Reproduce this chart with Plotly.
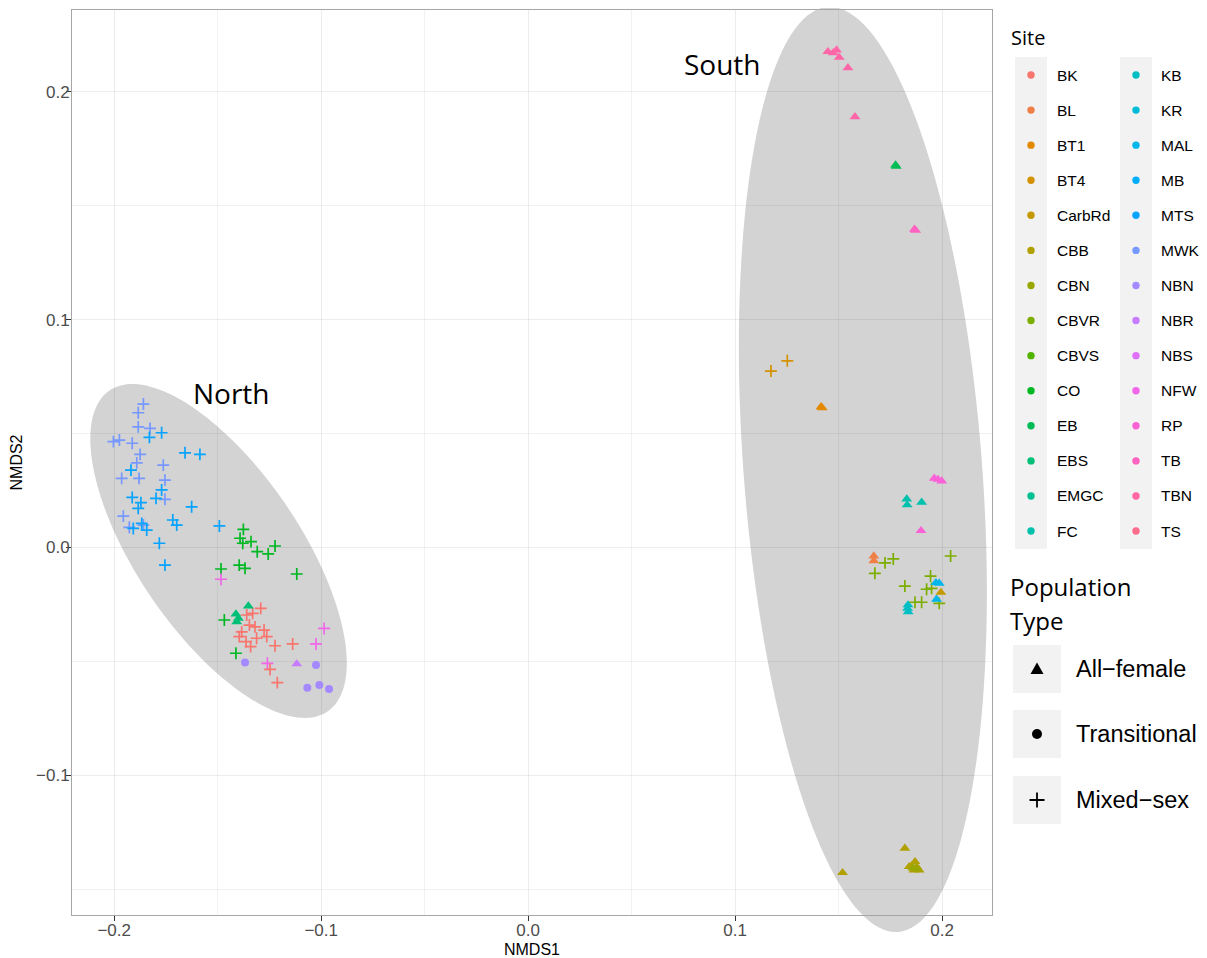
import numpy as np
import plotly.graph_objects as go

# ---------------- categories ----------------
SITES = ["BK", "BL", "BT1", "BT4", "CarbRd", "CBB", "CBN", "CBVR", "CBVS", "CO", "EB", "EBS", "EMGC", "FC",
         "KB", "KR", "MAL", "MB", "MTS", "MWK", "NBN", "NBR", "NBS", "NFW", "RP", "TB", "TBN", "TS"]
POP_TYPES = ["All\u2212female", "Transitional", "Mixed\u2212sex"]
X_TICKS = [-0.2, -0.1, 0.0, 0.1, 0.2]
Y_TICKS = [-0.1, 0.0, 0.1, 0.2]

# ---------------- North group ----------------
MWK_MIXED_X = [-0.1859, -0.1884, -0.1884, -0.1827, -0.2004, -0.1975, -0.1913, -0.1875, -0.1891, -0.1763,
               -0.1964, -0.1880, -0.1755, -0.1755, -0.1956, -0.1927, -0.1859]
MWK_MIXED_Y = [0.0629, 0.0591, 0.0529, 0.0522, 0.0464, 0.0471, 0.0457, 0.0408, 0.0371, 0.0361,
               0.0303, 0.0303, 0.0295, 0.0211, 0.0137, 0.0088, 0.0098]
MTS_MIXED_X = [-0.1771, -0.1830, -0.1658, -0.1586, -0.1919, -0.1771, -0.1798, -0.1913, -0.1871, -0.1884,
               -0.1626, -0.1717, -0.1698, -0.1908, -0.1867, -0.1843, -0.1782, -0.1492, -0.1755]
MTS_MIXED_Y = [0.0503, 0.0483, 0.0415, 0.0408, 0.0339, 0.0252, 0.0215, 0.0219, 0.0196, 0.0171,
               0.0178, 0.0120, 0.0098, 0.0083, 0.0105, 0.0076, 0.0018, 0.0094, -0.0078]
CO_MIXED_X = [-0.1376, -0.1392, -0.1379, -0.1339, -0.1309, -0.1256, -0.1223, -0.1484, -0.1396, -0.1368,
              -0.1118, -0.1468, -0.1412]
CO_MIXED_Y = [0.0079, 0.0040, 0.0018, 0.0025, -0.0019, -0.0029, 0.0006, -0.0095, -0.0078, -0.0092,
              -0.0117, -0.0319, -0.0465]
NFW_MIXED_X = [-0.1484, -0.0986, -0.1025, -0.1260]
NFW_MIXED_Y = [-0.0140, -0.0356, -0.0424, -0.0509]
BK_MIXED_X = [-0.1292, -0.1331, -0.1360, -0.1347, -0.1320, -0.1384, -0.1396, -0.1276, -0.1263, -0.1312,
              -0.1363, -0.1341, -0.1223, -0.1138, -0.1247, -0.1212]
BK_MIXED_Y = [-0.0268, -0.0290, -0.0297, -0.0341, -0.0349, -0.0371, -0.0392, -0.0363, -0.0392, -0.0399,
              -0.0414, -0.0436, -0.0432, -0.0424, -0.0536, -0.0594]
EBS_FEMALE_X = [-0.1352, -0.1412, -0.1400, -0.1408]
EBS_FEMALE_Y = [-0.0258, -0.0293, -0.0312, -0.0327]
NBR_FEMALE_X = [-0.1118]
NBR_FEMALE_Y = [-0.0512]
NBN_TRANS_X = [-0.1368, -0.1025, -0.1067, -0.1009, -0.0962]
NBN_TRANS_Y = [-0.0505, -0.0517, -0.0616, -0.0604, -0.0622]

# ---------------- South group ----------------
TBN_FEMALE_X = [0.1448, 0.1474, 0.1490, 0.1503, 0.1545, 0.1579]
TBN_FEMALE_Y = [0.2176, 0.2171, 0.2183, 0.2151, 0.2105, 0.1890]
EB_FEMALE_X = [0.1775, 0.1778]
EB_FEMALE_Y = [0.1678, 0.1672]
TB_FEMALE_X = [0.1866, 0.1872]
TB_FEMALE_Y = [0.1396, 0.1392]
BT4_MIXED_X = [0.1173, 0.1252]
BT4_MIXED_Y = [0.0774, 0.0819]
BT1_FEMALE_X = [0.1415, 0.1421]
BT1_FEMALE_Y = [0.0617, 0.0612]
RP_FEMALE_X = [0.1962, 0.1980, 0.1998, 0.1898]
RP_FEMALE_Y = [0.0303, 0.0298, 0.0291, 0.0073]
FC_FEMALE_X = [0.1829, 0.1831, 0.1901]
FC_FEMALE_Y = [0.0212, 0.0186, 0.0198]
BL_FEMALE_X = [0.1670, 0.1670]
BL_FEMALE_Y = [-0.0059, -0.0038]
CBVR_MIXED_X = [0.1724, 0.1764, 0.1675, 0.2041, 0.1944, 0.1820, 0.1925, 0.1949, 0.1869, 0.1901, 0.1986]
CBVR_MIXED_Y = [-0.0068, -0.0051, -0.0114, -0.0038, -0.0126, -0.0170, -0.0184, -0.0180, -0.0241, -0.0241, -0.0246]
MAL_FEMALE_X = [0.1970, 0.1986, 0.1973]
MAL_FEMALE_Y = [-0.0155, -0.0158, -0.0228]
CARBRD_FEMALE_X = [0.1994]
CARBRD_FEMALE_Y = [-0.0198]
KB_FEMALE_X = [0.1833, 0.1836, 0.1835]
KB_FEMALE_Y = [-0.0268, -0.0283, -0.0253]
CBB_FEMALE_X = [0.1820, 0.1519, 0.1869, 0.1853, 0.1877, 0.1889, 0.1864, 0.1841]
CBB_FEMALE_Y = [-0.1321, -0.1428, -0.1380, -0.1399, -0.1402, -0.1417, -0.1417, -0.1402]
CBN_FEMALE_X = [0.1859, 0.1878]
CBN_FEMALE_Y = [-0.1408, -0.1412]

# ---------------- group ellipses (centre + conjugate semi-axis vectors, data units) ----------------
NORTH_CENTER = (-0.1496, -0.0016)
NORTH_U = (0.05266, -0.07046)
NORTH_V = (-0.03266, -0.02015)
SOUTH_CENTER = (0.1617, 0.0342)
SOUTH_U = (0.01705, -0.20303)
SOUTH_V = (-0.05744, -0.00399)

X_RANGE = [-0.2204, 0.2241]
Y_RANGE = [-0.1614, 0.2359]

GROUP_LABELS = ["North", "South"]
GROUP_LABEL_X = [-0.1431, 0.0941]
GROUP_LABEL_Y = [0.0677, 0.2122]


# ---------------- ggplot hue palette ----------------
def hcl_hex(h, c=100.0, l=65.0):
    Xn, Yn, Zn = 95.047, 100.0, 108.883
    U = c * np.cos(np.radians(h))
    V = c * np.sin(np.radians(h))
    Y = Yn * ((l + 16) / 116) ** 3 if l > 8 else Yn * l / 903.3
    den = Xn + 15 * Yn + 3 * Zn
    un, vn = 4 * Xn / den, 9 * Yn / den
    up = U / (13 * l) + un
    vp = V / (13 * l) + vn
    X = 9.0 * Y * up / (4 * vp)
    Z = -X / 3 - 5 * Y + 3 * Y / vp
    X, Y, Z = X / 100, Y / 100, Z / 100
    r = 3.240479 * X - 1.537150 * Y - 0.498535 * Z
    g = -0.969256 * X + 1.875992 * Y + 0.041556 * Z
    b = 0.055648 * X - 0.204043 * Y + 1.057311 * Z

    def gam(v):
        v = 12.92 * v if v <= 0.0031308 else 1.055 * v ** (1 / 2.4) - 0.055
        return int(round(min(max(v, 0), 1) * 255))
    return "#%02X%02X%02X" % (gam(r), gam(g), gam(b))


n_sites = len(SITES)
COLORS = {s: hcl_hex((15 + 360.0 * i / n_sites) % 360) for i, s in enumerate(SITES)}

GROUPS = [
    ("MWK", 2, MWK_MIXED_X, MWK_MIXED_Y), ("MTS", 2, MTS_MIXED_X, MTS_MIXED_Y),
    ("CO", 2, CO_MIXED_X, CO_MIXED_Y), ("NFW", 2, NFW_MIXED_X, NFW_MIXED_Y),
    ("BK", 2, BK_MIXED_X, BK_MIXED_Y), ("EBS", 0, EBS_FEMALE_X, EBS_FEMALE_Y),
    ("NBR", 0, NBR_FEMALE_X, NBR_FEMALE_Y), ("NBN", 1, NBN_TRANS_X, NBN_TRANS_Y),
    ("TBN", 0, TBN_FEMALE_X, TBN_FEMALE_Y), ("EB", 0, EB_FEMALE_X, EB_FEMALE_Y),
    ("TB", 0, TB_FEMALE_X, TB_FEMALE_Y), ("BT4", 2, BT4_MIXED_X, BT4_MIXED_Y),
    ("BT1", 0, BT1_FEMALE_X, BT1_FEMALE_Y), ("RP", 0, RP_FEMALE_X, RP_FEMALE_Y),
    ("FC", 0, FC_FEMALE_X, FC_FEMALE_Y), ("BL", 0, BL_FEMALE_X, BL_FEMALE_Y),
    ("CBVR", 2, CBVR_MIXED_X, CBVR_MIXED_Y), ("MAL", 0, MAL_FEMALE_X, MAL_FEMALE_Y),
    ("CarbRd", 0, CARBRD_FEMALE_X, CARBRD_FEMALE_Y), ("KB", 0, KB_FEMALE_X, KB_FEMALE_Y),
    ("CBB", 0, CBB_FEMALE_X, CBB_FEMALE_Y), ("CBN", 0, CBN_FEMALE_X, CBN_FEMALE_Y),
]

SYMBOLS = ["triangle-up", "circle", "cross-thin-open"]
SIZES = [9.5, 8, 8.5]

fig = go.Figure()
for site, t, xs, ys in GROUPS:
    col = COLORS[site]
    fig.add_trace(go.Scatter(
        x=xs, y=ys, mode="markers", name=site + " " + POP_TYPES[t], showlegend=False,
        marker=dict(symbol=SYMBOLS[t], size=SIZES[t], color=col,
                    line=dict(color=col, width=1.7 if t == 2 else 0)),
        cliponaxis=False,
    ))

# ---------------- geometry (page has an 8px body margin) ----------------
PAGE_OFF = 8
W, H = 1199, 950
L, T = 72 - PAGE_OFF, 10 - PAGE_OFF
R, B = W - (992 - PAGE_OFF), H - (915 - PAGE_OFF)
PW, PH = W - L - R, H - T - B


def d2p(x, y):
    return ((x - X_RANGE[0]) / (X_RANGE[1] - X_RANGE[0]),
            (y - Y_RANGE[0]) / (Y_RANGE[1] - Y_RANGE[0]))


def px2p(px, py):
    # screen pixel (as seen in the window) -> paper coordinates
    return ((px - PAGE_OFF - L) / PW, (H - B - (py - PAGE_OFF)) / PH)


def ellipse_path(c, u, v, n=160):
    t = np.linspace(0, 2 * np.pi, n)
    xs = c[0] + u[0] * np.cos(t) + v[0] * np.sin(t)
    ys = c[1] + u[1] * np.cos(t) + v[1] * np.sin(t)
    pts = [d2p(a, b) for a, b in zip(xs, ys)]
    return "M " + " L ".join("%.5f,%.5f" % p for p in pts) + " Z"


shapes = []
for c, u, v in [(NORTH_CENTER, NORTH_U, NORTH_V), (SOUTH_CENTER, SOUTH_U, SOUTH_V)]:
    shapes.append(dict(type="path", xref="paper", yref="paper", layer="below",
                       path=ellipse_path(c, u, v), fillcolor="#d3d3d3", line=dict(width=0)))

annotations = []
for txt, gx, gy in zip(GROUP_LABELS, GROUP_LABEL_X, GROUP_LABEL_Y):
    annotations.append(dict(x=gx, y=gy, xref="x", yref="y", text=txt, showarrow=False,
                            font=dict(family="Open Sans", size=28, color="black")))


# ---------------- manual legend ----------------
def rect_px(x0, y0, x1, y1, color):
    a = px2p(x0, y1)
    b = px2p(x1, y0)
    return dict(type="rect", xref="paper", yref="paper", layer="below",
                x0=a[0], y0=a[1], x1=b[0], y1=b[1], fillcolor=color, line=dict(width=0))


def text_px(x, y, txt, size, family, color="black"):
    p = px2p(x, y)
    return dict(x=p[0], y=p[1], xref="paper", yref="paper", text=txt, showarrow=False,
                xanchor="left", yanchor="middle", font=dict(family=family, size=size, color=color))


annotations.append(text_px(1009, 38, "Site", 20, "Open Sans"))
row_gap = 35.08
cols = [(1031, 1055), (1136, 1159)]
for ci, (kx, lx) in enumerate(cols):
    shapes.append(rect_px(kx - 16, 57, kx + 16, 549, "#f2f2f2"))
for i, s in enumerate(SITES):
    ci, ri = divmod(i, 14)
    kx, lx = cols[ci]
    cy = 75 + row_gap * ri
    a = px2p(kx - 3.7, cy + 3.7)
    b = px2p(kx + 3.7, cy - 3.7)
    shapes.append(dict(type="circle", xref="paper", yref="paper", layer="below",
                       x0=a[0], y0=a[1], x1=b[0], y1=b[1], fillcolor=COLORS[s], line=dict(width=0)))
    annotations.append(text_px(lx, cy, s, 15.5, "Liberation Sans"))

annotations.append(text_px(1008, 586, "Population", 24, "Open Sans"))
annotations.append(text_px(1008, 620, "Type", 24, "Open Sans"))
pt_rows = [669, 734, 800]
for i, (txt, cy) in enumerate(zip(POP_TYPES, pt_rows)):
    shapes.append(rect_px(1013, cy - 24, 1061, cy + 24, "#f2f2f2"))
    kx = 1037
    if i == 0:
        p1, p2, p3 = px2p(kx - 6.5, cy + 5), px2p(kx + 6.5, cy + 5), px2p(kx, cy - 6.5)
        shapes.append(dict(type="path", xref="paper", yref="paper", layer="below",
                           path="M %f,%f L %f,%f L %f,%f Z" % (*p1, *p2, *p3),
                           fillcolor="black", line=dict(width=0)))
    elif i == 1:
        a = px2p(kx - 5, cy + 5)
        b = px2p(kx + 5, cy - 5)
        shapes.append(dict(type="circle", xref="paper", yref="paper", layer="below",
                           x0=a[0], y0=a[1], x1=b[0], y1=b[1], fillcolor="black", line=dict(width=0)))
    else:
        h1, h2 = px2p(kx - 7.5, cy), px2p(kx + 7.5, cy)
        v1, v2 = px2p(kx, cy - 7.5), px2p(kx, cy + 7.5)
        shapes.append(dict(type="path", xref="paper", yref="paper", layer="below",
                           path="M %f,%f L %f,%f M %f,%f L %f,%f" % (*h1, *h2, *v1, *v2),
                           line=dict(color="black", width=1.8)))
    annotations.append(text_px(1074, cy, txt, 23.5, "Liberation Sans"))

axis_common = dict(
    showline=True, mirror=True, linecolor="#a6a6a6", linewidth=1,
    ticks="outside", ticklen=5, tickwidth=1, tickcolor="#333333",
    tickfont=dict(family="Liberation Sans", size=17, color="#4d4d4d"),
    showgrid=True, gridcolor="rgba(0,0,0,0.075)", gridwidth=1,
    zeroline=False, tickformat=".1f",
    title_font=dict(family="Liberation Sans", size=16, color="black"),
)

fig.update_layout(
    width=W, height=H,
    margin=dict(l=L, r=R, t=T, b=B, autoexpand=False),
    paper_bgcolor="white", plot_bgcolor="rgba(0,0,0,0)",
    showlegend=False,
    xaxis=dict(range=X_RANGE, tickvals=X_TICKS, ticklabelstandoff=-5,
               title=dict(text="NMDS1", standoff=7),
               minor=dict(tickvals=[-0.15, -0.05, 0.05, 0.15], showgrid=True,
                          gridcolor="rgba(0,0,0,0.05)", gridwidth=1, ticks=""),
               automargin=False, **axis_common),
    yaxis=dict(range=Y_RANGE, tickvals=Y_TICKS, ticklabelstandoff=-7,
               title=dict(text="NMDS2", standoff=11),
               minor=dict(tickvals=[-0.15, -0.05, 0.05, 0.15], showgrid=True,
                          gridcolor="rgba(0,0,0,0.05)", gridwidth=1, ticks=""),
               automargin=False, **axis_common),
    shapes=shapes, annotations=annotations,
)

fig.write_html("out.html")
